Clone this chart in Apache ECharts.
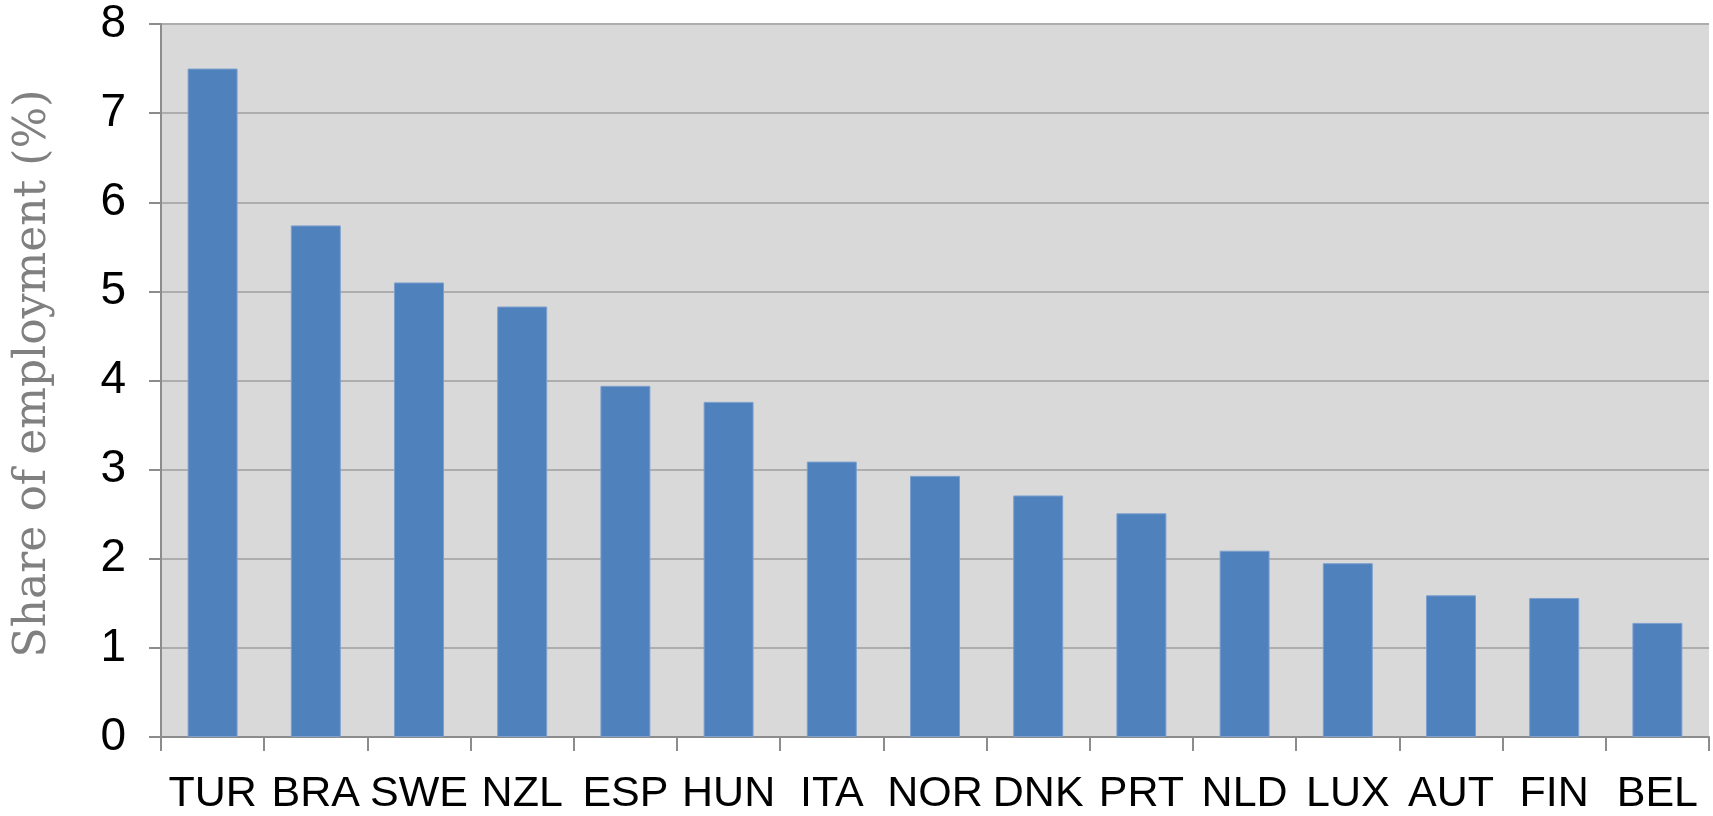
<!DOCTYPE html>
<html>
<head>
<meta charset="utf-8">
<script src="https://cdn.jsdelivr.net/npm/echarts@6/dist/echarts.min.js"></script>
<style>
  html, body { margin: 0; padding: 0; background: #fff; }
  #chart { width: 1713px; height: 816px; }
</style>
</head>
<body>
<div id="chart"></div>
<script>
// countries, sorted as in the picture
const countries = ['TUR', 'BRA', 'SWE', 'NZL', 'ESP', 'HUN', 'ITA', 'NOR', 'DNK', 'PRT', 'NLD', 'LUX', 'AUT', 'FIN', 'BEL'];
// share of employment (%)
const shares = [7.5, 5.74, 5.1, 4.83, 3.94, 3.76, 3.09, 2.93, 2.71, 2.51, 2.09, 1.95, 1.59, 1.56, 1.28];
const yTicks = [0, 1, 2, 3, 4, 5, 6, 7, 8];

const chart = echarts.init(document.getElementById('chart'));

const option = {
  animation: false,
  grid: {
    left: 161,
    right: 4,
    top: 24,
    bottom: 78,
    show: true,
    backgroundColor: '#D9D9D9',
    borderWidth: 0
  },
  xAxis: {
    type: 'category',
    data: countries,
    axisLine: { lineStyle: { color: '#8C8C8C', width: 2 } },
    axisTick: { show: true, length: 14, lineStyle: { color: '#8C8C8C', width: 2 } },
    axisLabel: {
      interval: 0,
      color: '#000',
      fontFamily: '"Liberation Sans", Arial, sans-serif',
      fontSize: 43,
      margin: 36
    }
  },
  yAxis: {
    type: 'value',
    min: yTicks[0],
    max: yTicks[yTicks.length - 1],
    interval: 1,
    name: 'Share of employment (%)',
    nameLocation: 'middle',
    nameRotate: 90,
    nameGap: 105,
    nameTextStyle: {
      color: '#808080',
      fontFamily: '"DejaVu Serif", serif',
      fontSize: 44,
      padding: [0, 0, 0, 14]
    },
    axisLine: { show: true, lineStyle: { color: '#8C8C8C', width: 2 } },
    axisTick: { show: true, length: 12, lineStyle: { color: '#8C8C8C', width: 2 } },
    axisLabel: {
      color: '#000',
      fontFamily: '"Liberation Sans", Arial, sans-serif',
      fontSize: 46,
      margin: 35
    },
    splitLine: { lineStyle: { color: '#ADADAD', width: 2 } }
  },
  series: [
    {
      type: 'bar',
      data: shares,
      barWidth: '48.4%',
      itemStyle: {
        color: '#4F81BD',
        borderColor: '#7C9FCE',
        borderWidth: 1
      }
    }
  ]
};

chart.setOption(option);
</script>
</body>
</html>
